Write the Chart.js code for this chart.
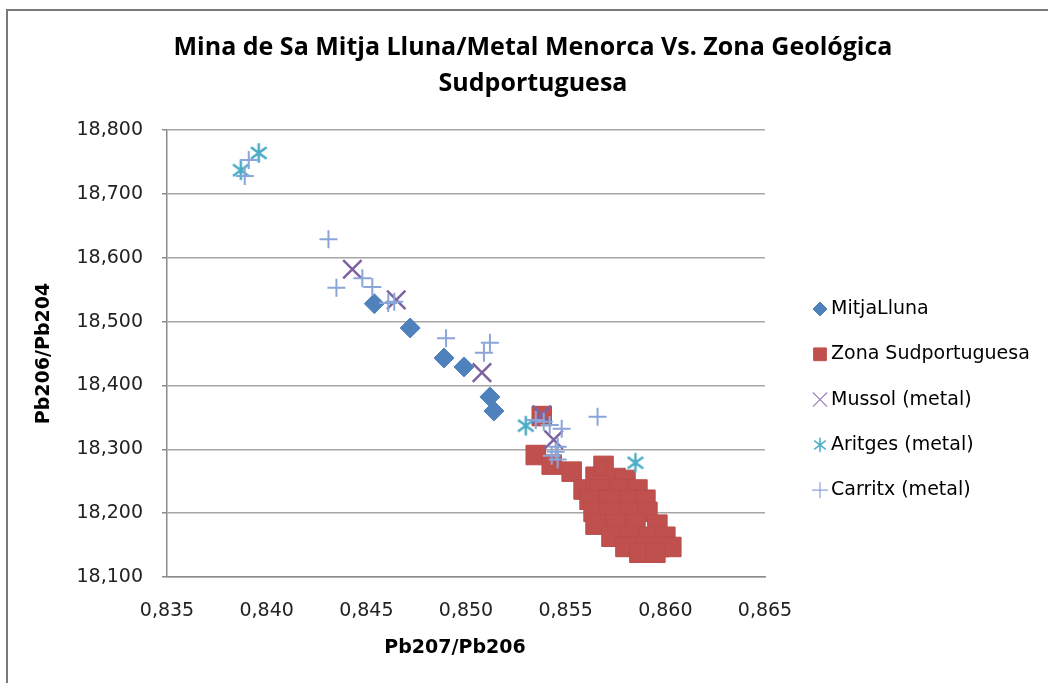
<!DOCTYPE html>
<html>
<head>
<meta charset="utf-8">
<script src="https://cdn.jsdelivr.net/npm/chart.js@4.4.0/dist/chart.umd.min.js"></script>
<style>
  html, body { margin: 0; padding: 0; background: #fff; }
  #wrap { position: relative; width: 1048px; height: 683px; overflow: hidden; }
  #frame { position: absolute; left: 6px; top: 9px; width: 1100px; height: 700px;
           border-left: 2px solid #7a7a7a; border-top: 2px solid #7a7a7a; }
  canvas { position: absolute; left: 0; top: 0; }
</style>
</head>
<body>
<div id="wrap">
  <div id="frame"></div>
  <canvas id="chart" width="1048" height="683"></canvas>
</div>
<script>
const titleLines = ['Mina de Sa Mitja Lluna/Metal Menorca Vs. Zona Geológica', 'Sudportuguesa'];
const xTitle = 'Pb207/Pb206';
const yTitle = 'Pb206/Pb204';

const seriesNames = ['MitjaLluna', 'Zona Sudportuguesa', 'Mussol (metal)', 'Aritges (metal)', 'Carritx (metal)'];

// MitjaLluna
const mitjaX = [0.8454, 0.8472, 0.8489, 0.8499, 0.8512, 0.8514];
const mitjaY = [18.528, 18.490, 18.443, 18.429, 18.382, 18.360];

// Zona Sudportuguesa
const zonaX = [0.8538, 0.8535, 0.8543, 0.8553, 0.8559, 0.8565, 0.8569, 0.8575, 0.8580, 0.8567,
               0.8577, 0.8586, 0.8562, 0.8572, 0.8582, 0.8590, 0.8564, 0.8572, 0.8582, 0.8591,
               0.8565, 0.8575, 0.8585, 0.8596, 0.8573, 0.8582, 0.8592, 0.8600, 0.8580, 0.8590,
               0.8597, 0.8603, 0.8587, 0.8595];
const zonaY = [18.352, 18.291, 18.276, 18.265, 18.237, 18.257, 18.274, 18.255, 18.252, 18.237,
               18.237, 18.237, 18.221, 18.221, 18.221, 18.221, 18.202, 18.202, 18.202, 18.202,
               18.182, 18.182, 18.182, 18.182, 18.163, 18.163, 18.163, 18.163, 18.147, 18.147,
               18.147, 18.147, 18.138, 18.138];

// Mussol (metal)
const mussolX = [0.8443, 0.8465, 0.8508, 0.8538, 0.8544];
const mussolY = [18.582, 18.534, 18.420, 18.354, 18.315];

// Aritges (metal)
const aritgesX = [0.8387, 0.8396, 0.8530, 0.8585];
const aritgesY = [18.737, 18.764, 18.337, 18.279];

// Carritx (metal)
const carritxX = [0.8389, 0.8391, 0.8431, 0.8435, 0.8448, 0.8453, 0.8461, 0.8464, 0.8490, 0.8512,
                  0.8509, 0.8535, 0.8539, 0.8542, 0.8548, 0.8566, 0.8546, 0.8545, 0.8543, 0.8546];
const carritxY = [18.728, 18.753, 18.629, 18.553, 18.568, 18.554, 18.529, 18.531, 18.474, 18.467,
                  18.451, 18.346, 18.343, 18.338, 18.332, 18.351, 18.304, 18.296, 18.290, 18.284];

const toPoints = (xs, ys) => xs.map((x, i) => ({ x: x, y: ys[i] }));

// asterisk marker: an X with a vertical bar, like the spreadsheet one
function makeAsterisk(size, color, lw) {
  const c = document.createElement('canvas');
  c.width = size; c.height = size;
  const g = c.getContext('2d');
  const m = size / 2, r = size / 2 - lw / 2;
  g.strokeStyle = color;
  g.lineWidth = lw;
  g.beginPath();
  g.moveTo(m, m - r); g.lineTo(m, m + r);
  const d = r * 0.8;
  g.moveTo(m - d, m - d * 0.75); g.lineTo(m + d, m + d * 0.75);
  g.moveTo(m - d, m + d * 0.75); g.lineTo(m + d, m - d * 0.75);
  g.stroke();
  return c;
}

const asteriskBig = makeAsterisk(22, '#4bacc6', 2.5);
const asteriskSmall = makeAsterisk(16, '#4bacc6', 1.5);

const datasets = [
  { label: seriesNames[0], data: toPoints(mitjaX, mitjaY), pointStyle: 'rectRot', pointRadius: 10,
    backgroundColor: '#4f81bd', borderColor: '#4f81bd', borderWidth: 1, order: 5 },
  { label: seriesNames[1], data: toPoints(zonaX, zonaY), pointStyle: 'rect', pointRadius: 13.8,
    backgroundColor: '#c0504d', borderColor: '#b84d4a', borderWidth: 1, order: 4 },
  { label: seriesNames[2], data: toPoints(mussolX, mussolY), pointStyle: 'crossRot', pointRadius: 13,
    backgroundColor: '#8064a2', borderColor: '#7c63a0', borderWidth: 2.5, order: 3 },
  { label: seriesNames[3], data: toPoints(aritgesX, aritgesY), pointStyle: asteriskBig,
    backgroundColor: '#4bacc6', borderColor: '#4bacc6', order: 2 },
  { label: seriesNames[4], data: toPoints(carritxX, carritxY), pointStyle: 'cross', pointRadius: 9,
    backgroundColor: '#8aa5d8', borderColor: '#8aa5d8', borderWidth: 2, order: 1 }
];

const legendMarks = [
  { style: 'rectRot', radius: 7, fill: '#4f81bd', stroke: '#4f81bd', lw: 1 },
  { style: 'rect', radius: 9, fill: '#c0504d', stroke: '#c0504d', lw: 1 },
  { style: 'crossRot', radius: 10, fill: '#9a86bd', stroke: '#9a86bd', lw: 1.2 },
  { style: asteriskSmall },
  { style: 'cross', radius: 8, fill: '#8aa5d8', stroke: '#8aa5d8', lw: 1.2 }
];

const decoPlugin = {
  id: 'deco',
  afterDraw(chart) {
    const ctx = chart.ctx;
    ctx.save();
    // title
    ctx.fillStyle = '#000';
    ctx.textAlign = 'center';
    ctx.textBaseline = 'middle';
    ctx.font = 'bold 25px "Open Sans"';
    ctx.fillText(titleLines[0], 533, 48);
    ctx.fillText(titleLines[1], 533, 84);
    // x axis title
    ctx.font = 'bold 19px "DejaVu Sans"';
    ctx.fillText(xTitle, 455, 648);
    // legend
    ctx.font = '19px "DejaVu Sans"';
    ctx.textAlign = 'left';
    seriesNames.forEach((name, i) => {
      const y = 309 + i * 45.3;
      const mk = legendMarks[i];
      ctx.fillStyle = mk.fill || '#000';
      ctx.strokeStyle = mk.stroke || '#000';
      ctx.lineWidth = mk.lw || 1;
      Chart.helpers.drawPoint(ctx, { pointStyle: mk.style, radius: mk.radius || 8, rotation: 0, borderWidth: mk.lw || 1 }, 820, y);
      ctx.fillStyle = '#000';
      ctx.fillText(name, 831, y);
    });
    ctx.restore();
  }
};

const fmt = (v) => Number(v).toFixed(3).replace('.', ',');

new Chart(document.getElementById('chart'), {
  type: 'scatter',
  data: { datasets: datasets },
  plugins: [decoPlugin],
  options: {
    responsive: false,
    animation: false,
    layout: { padding: { top: 130, right: 283, left: 0, bottom: 0 } },
    plugins: { legend: { display: false }, title: { display: false }, tooltip: { enabled: false } },
    scales: {
      x: {
        type: 'linear', position: 'bottom', min: 0.835, max: 0.865,
        afterFit: (s) => { s.height = 106; },
        ticks: { stepSize: 0.005, callback: fmt, color: '#222', font: { family: 'DejaVu Sans', size: 19 }, padding: 23 },
        grid: { drawOnChartArea: false, drawTicks: false },
        border: { display: true, color: '#8c8c8c', width: 1.5 },
        title: { display: false }
      },
      y: {
        type: 'linear', min: 18.1, max: 18.8,
        afterFit: (s) => { s.width = 167; },
        ticks: { stepSize: 0.1, callback: fmt, color: '#222', font: { family: 'DejaVu Sans', size: 19 }, padding: 19 },
        grid: { color: '#a6a6a6', lineWidth: 1.5, tickLength: 5, tickColor: '#8c8c8c' },
        border: { display: true, color: '#8c8c8c', width: 1.5 },
        title: { display: true, text: yTitle, color: '#000', font: { family: 'DejaVu Sans', size: 19, weight: 'bold' }, padding: { top: 33, bottom: 0 } }
      }
    }
  }
});
</script>
</body>
</html>
